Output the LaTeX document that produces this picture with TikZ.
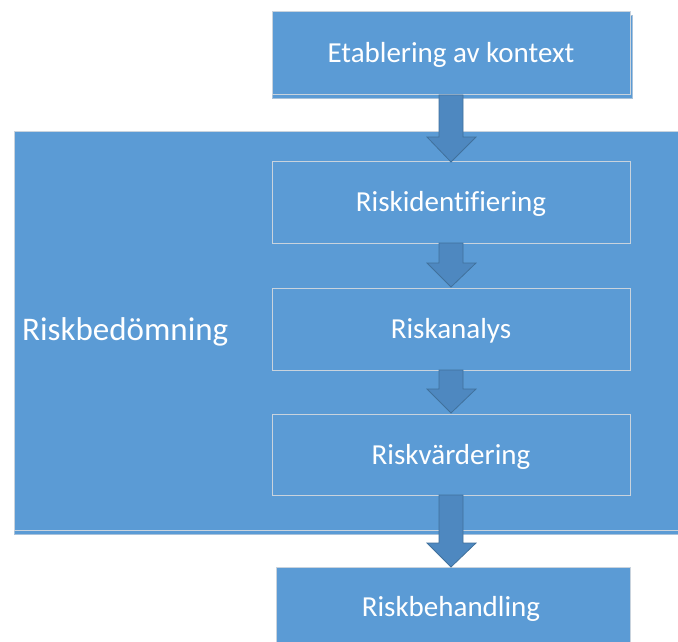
\documentclass[tikz,border=0pt]{standalone}
\usepackage{fontspec}
\setmainfont[Ligatures=NoCommon]{Carlito}
\definecolor{boxblue}{HTML}{5B9BD5}
\definecolor{arrowblue}{HTML}{4E88C0}
\definecolor{arrowline}{HTML}{41719C}
\definecolor{edgegray}{HTML}{C9D3DD}
\begin{document}
\begin{tikzpicture}[x=1pt,y=-1pt,
  blockbox/.style={draw=edgegray,line width=1pt,fill=boxblue},
  shadowbox/.style={draw=edgegray!70!boxblue,line width=0.6pt,fill=boxblue},
  innerbox/.style={draw=edgegray,line width=0.8pt,fill=boxblue},
  lbl/.style={text=white,font=\fontsize{29}{34}\selectfont,inner sep=0pt},
  bigarrow/.style={fill=arrowblue,draw=arrowline,line width=0.8pt,line join=miter}]
\useasboundingbox (0,0) rectangle (678,642);
\fill[white] (0,0) rectangle (678,642);
% big box
\draw[shadowbox] (14,135) rectangle (679,534);
\draw[blockbox] (14,131) rectangle (679,530);
\node[lbl,font=\fontsize{33}{38}\selectfont,anchor=west] (bed) at (22,332) {Riskbedömning};
% top box
\draw[shadowbox] (272,15) rectangle (632,98);
\draw[blockbox] (272,12) rectangle (630,95);
\node[lbl] (kontext) at (451,55) {Etablering av kontext};
% inner boxes
\draw[innerbox] (272,161) rectangle (630,243);
\node[lbl] (ident) at (451,204) {Riskidentifiering};
\draw[innerbox] (272,288) rectangle (630,370);
\node[lbl] (analys) at (451,331) {Riskanalys};
\draw[innerbox] (272,414) rectangle (630,495);
\node[lbl] (varder) at (451,457) {Riskvärdering};
% bottom box
\draw[blockbox] (276,567) rectangle (630,643);
\node[lbl] (behand) at (451,609) {Riskbehandling};
% arrows
\foreach \t/\h/\e in {95/137/162, 243/263/287, 370/389/413, 495/543/567}{
  \draw[bigarrow] (439,\t) -- (463,\t) -- (463,\h) -- (476,\h) -- (451,\e) -- (427,\h) -- (439,\h) -- cycle;
}
\end{tikzpicture}
\end{document}
